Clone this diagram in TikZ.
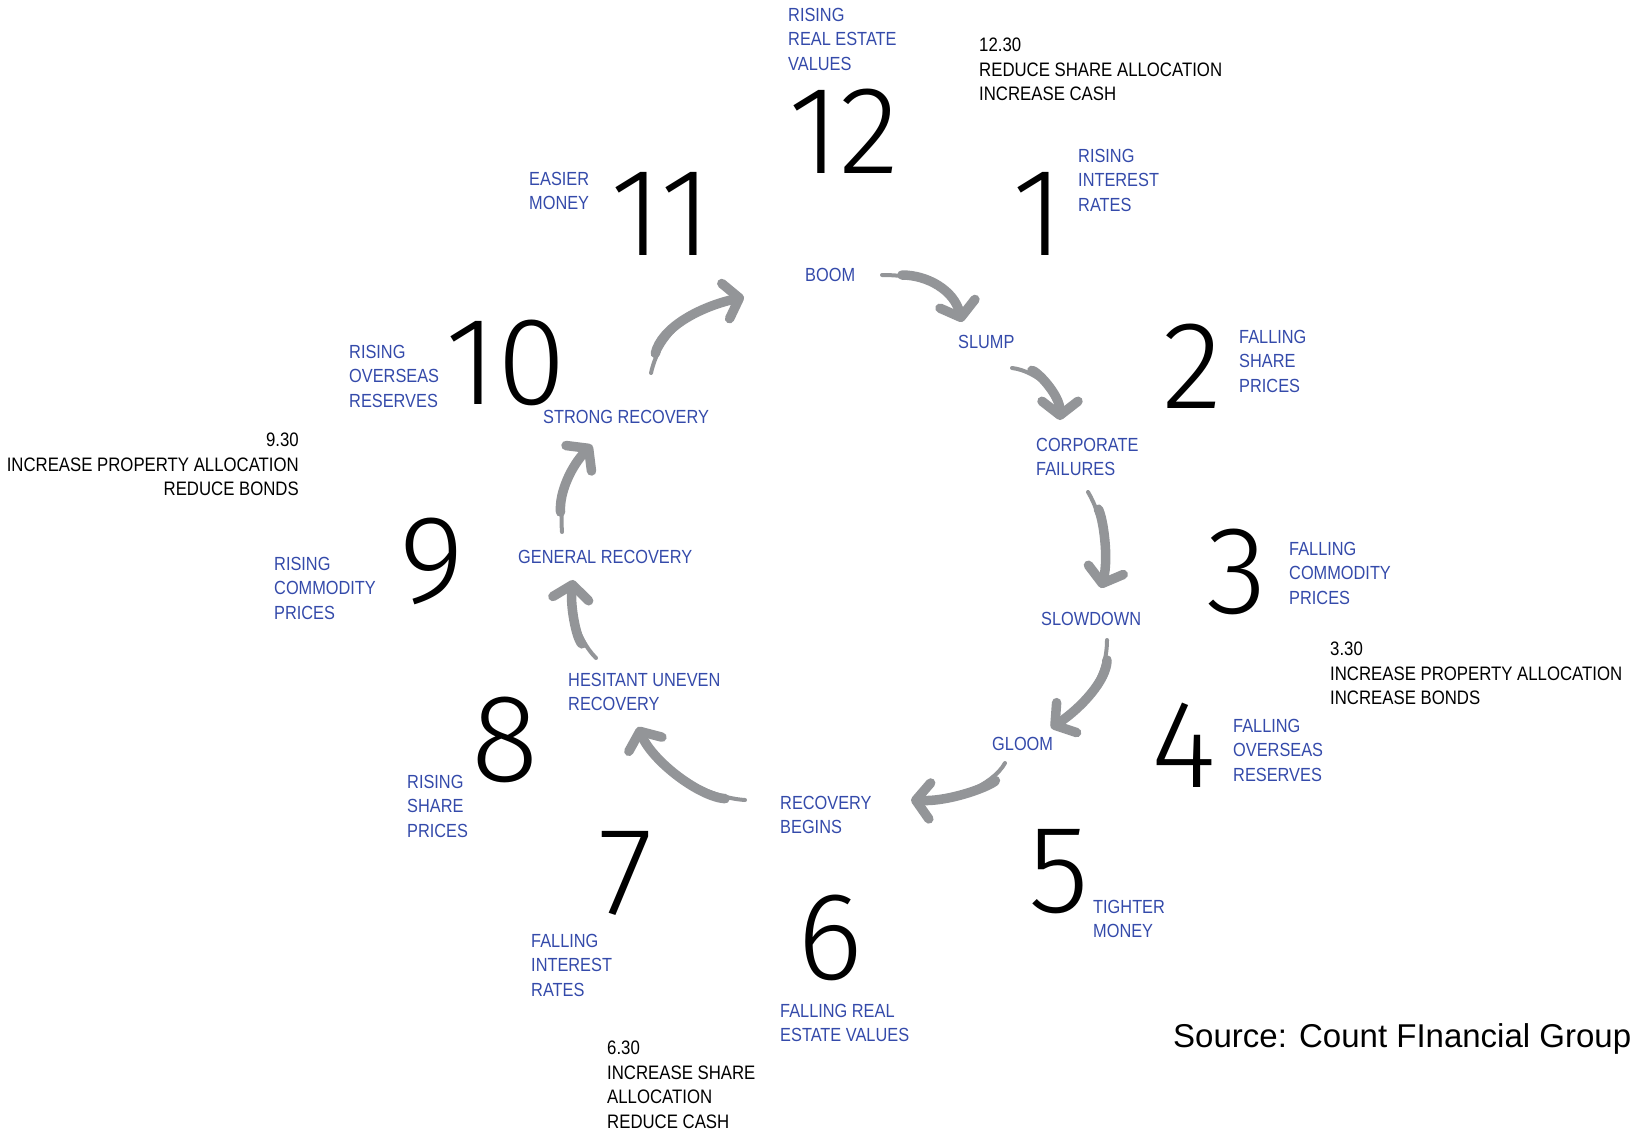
\documentclass[tikz,border=0pt]{standalone}
\usepackage{fontspec}
\usepackage{xcolor}
\usepackage{tikz}
\usetikzlibrary{arrows.meta}
\setmainfont{Liberation Sans}
\newfontfamily\lblfont[FakeStretch=0.86]{Liberation Sans}
\IfFontExistsTF{Fira Sans Book}
  {\newfontfamily\numfont{Fira Sans Book}}
  {\newfontfamily\numfont{Fira Sans Light}}
\definecolor{cycblue}{RGB}{52,74,170}
\definecolor{arrowgrey}{RGB}{147,149,152}

\begin{document}
\begin{tikzpicture}[x=1pt,y=-1pt,
  stage/.style={text=cycblue, font=\lblfont\fontsize{19}{24.5}\selectfont, align=left, anchor=north west, inner sep=0pt},
  act/.style={text=black, font=\lblfont\fontsize{19.5}{24.5}\selectfont, align=left, anchor=north west, inner sep=0pt},
  hour/.style={font=\numfont\fontsize{125}{125}\selectfont, inner sep=0pt, anchor=base},
  cyc/.style={draw=arrowgrey, line width=9.5pt, line cap=round, shorten <=20pt,
    -{Straight Barb[length=14pt,width=36pt,round]},
    postaction={draw=arrowgrey, line width=4pt, -, shorten <=0pt, shorten >=14pt}}]
\useasboundingbox (0,0) rectangle (1632,1132);

% clock face
\node[hour] (h12) at (844,173) {12};
\node[hour] (h1) at (1038,255) {1};
\node[hour] (h2) at (1192,408) {2};
\node[hour] (h3) at (1237,613) {3};
\node[hour] (h4) at (1184,787) {4};
\node[hour] (h5) at (1059,912) {5};
\node[hour] (h6) at (830,979) {6};
\node[hour] (h7) at (626,914) {7};
\node[hour] (h8) at (505,781) {8};
\node[hour] (h9) at (432,602) {9};
\node[hour] (h10) at (506,404) {10};
\node[hour] (h11) at (661,255) {11};

% signs next to the hours
\node[stage] (s12) at (788,8) {RISING\\REAL ESTATE\\VALUES};
\node[stage] (s1) at (1078,149) {RISING\\INTEREST\\RATES};
\node[stage] (s2) at (1239,330) {FALLING\\SHARE\\PRICES};
\node[stage] (s3) at (1289,542) {FALLING\\COMMODITY\\PRICES};
\node[stage] (s4) at (1233,719) {FALLING\\OVERSEAS\\RESERVES};
\node[stage] (s5) at (1093,900) {TIGHTER\\MONEY};
\node[stage] (s6) at (780,1004) {FALLING REAL\\ESTATE VALUES};
\node[stage] (s7) at (531,934) {FALLING\\INTEREST\\RATES};
\node[stage] (s8) at (407,775) {RISING\\SHARE\\PRICES};
\node[stage] (s9) at (274,557) {RISING\\COMMODITY\\PRICES};
\node[stage] (s10) at (349,345) {RISING\\OVERSEAS\\RESERVES};
\node[stage] (s11) at (529,172) {EASIER\\MONEY};

% the cycle
\node[stage] (boom) at (805,268) {BOOM};
\node[stage] (slump) at (958,335) {SLUMP};
\node[stage] (corp) at (1036,438) {CORPORATE\\FAILURES};
\node[stage] (slow) at (1041,612) {SLOWDOWN};
\node[stage] (gloom) at (992,737) {GLOOM};
\node[stage] (recbeg) at (780,796) {RECOVERY\\BEGINS};
\node[stage] (hesit) at (568,673) {HESITANT UNEVEN\\RECOVERY};
\node[stage] (genrec) at (518,550) {GENERAL RECOVERY};
\node[stage] (strong) at (543,410) {STRONG RECOVERY};

\draw[cyc] ([shift={(77,7)}]boom.north west) .. controls +(45,0) and +(-8,-32) .. ([shift={(4,-13)}]slump.north west);
\draw[cyc] ([shift={(54,33)}]slump.north west) .. controls +(25,3) and +(0,-25) .. ([shift={(24,-18)}]corp.north west);
\draw[cyc] ([shift={(52,54)}]corp.north west) .. controls +(15,25) and +(8,-30) .. ([shift={(60,-24)}]slow.north west);
\draw[cyc] ([shift={(66,28)}]slow.north west) .. controls +(0,40) and +(30,-20) .. ([shift={(59,-9)}]gloom.north west);
\draw[cyc] ([shift={(13,26)}]gloom.north west) .. controls +(-12,22) and +(40,2) .. ([shift={(131,4)}]recbeg.north west);
\draw[cyc] ([shift={(-35,4)}]recbeg.north west) .. controls +(-45,-3) and +(15,35) .. ([shift={(70,54)}]hesit.north west);
\draw[cyc] ([shift={(28,-15)}]hesit.north west) .. controls +(-20,-20) and +(-3,25) .. ([shift={(55,30)}]genrec.north west);
\draw[cyc] ([shift={(44,-18)}]genrec.north west) .. controls +(-3,-40) and +(-20,20) .. ([shift={(49,35)}]strong.north west);
\draw[cyc] ([shift={(108,-37)}]strong.north west) .. controls +(10,-45) and +(-45,10) .. ([shift={(-61,29)}]boom.north west);

% what to do with the portfolio
\node[act] (a12) at (979,38) {12.30\\REDUCE SHARE ALLOCATION\\INCREASE CASH};
\node[act] (a3) at (1330,642) {3.30\\INCREASE PROPERTY ALLOCATION\\INCREASE BONDS};
\node[act, align=right, anchor=north east] (a9) at (299,433) {9.30\\INCREASE PROPERTY ALLOCATION\\REDUCE BONDS};
\node[act] (a6) at (607,1041) {6.30\\INCREASE SHARE\\ALLOCATION\\REDUCE CASH};

\node[font=\fontsize{33}{33}\selectfont, anchor=base west, inner sep=0pt] (src) at (1173,1047) {Source: Count FInancial Group};
\end{tikzpicture}
\end{document}
